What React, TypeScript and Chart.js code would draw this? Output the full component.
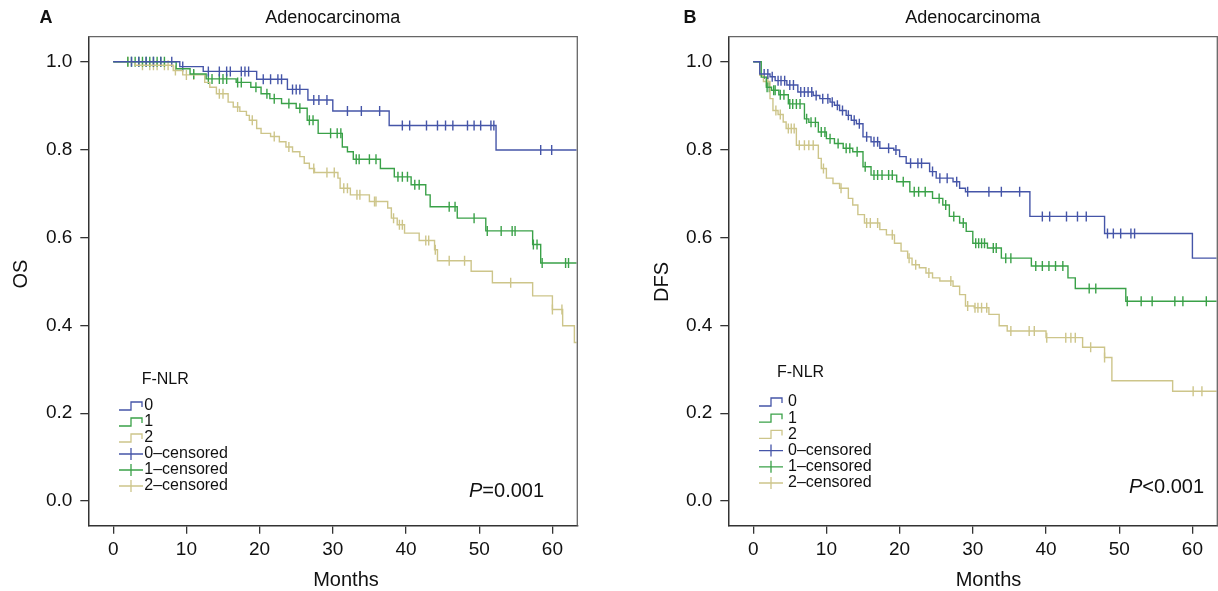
import React, { useEffect, useRef } from 'react';
import { Chart, registerables } from 'chart.js';

Chart.register(...registerables);

const FONT = '"Liberation Sans", Arial, Helvetica, sans-serif';

const groups = ['0', '1', '2'];
const legendLabels = ['0', '1', '2', '0–censored', '1–censored', '2–censored'];
const colors = ['#4555a8', '#3aa148', '#cdc58a'];
const xTicks = [0, 10, 20, 30, 40, 50, 60];
const yTicks = [0, 0.2, 0.4, 0.6, 0.8, 1.0];

// Panel A: overall survival (OS)
const osTime0 = [0, 9.1, 12.3, 19.6, 23.8, 26.6, 30.0, 37.7, 52.3, 63.3];
const osSurv0 = [1.0, 0.989, 0.978, 0.96, 0.937, 0.913, 0.888, 0.855, 0.799, 0.799];
const osCens0 = [2.5, 3.5, 4.5, 5.5, 6.5, 8.0, 9.5, 13.0, 14.5, 15.5, 16.0, 17.5, 18.0, 18.5, 20.5, 21.5, 22.5, 23.0, 24.5, 25.0, 25.5, 27.4, 28.1, 29.2, 32.0, 33.9, 36.4, 39.5, 40.5, 42.8, 44.3, 45.4, 46.4, 48.4, 49.3, 50.2, 51.6, 52.0, 58.4, 59.9];

const osTime1 = [0, 8.6, 10.5, 12.7, 16.8, 18.8, 20.2, 21.4, 23.0, 25.0, 26.5, 28.0, 31.3, 32.0, 32.8, 36.5, 38.4, 40.7, 42.7, 43.3, 47.0, 50.9, 57.3, 58.4, 63.3];
const osSurv1 = [1.0, 0.984, 0.972, 0.961, 0.953, 0.942, 0.927, 0.916, 0.905, 0.894, 0.867, 0.837, 0.806, 0.795, 0.778, 0.757, 0.738, 0.72, 0.697, 0.67, 0.644, 0.615, 0.584, 0.542, 0.542];
const osCens1 = [2.0, 2.5, 3.0, 3.5, 4.0, 4.5, 5.0, 5.5, 6.0, 6.5, 7.0, 11.0, 13.0, 13.5, 14.5, 15.0, 15.5, 17.0, 17.5, 19.5, 21.0, 22.0, 24.0, 25.5, 26.8, 27.3, 29.7, 30.6, 31.1, 33.2, 33.6, 35.0, 35.9, 38.9, 39.5, 40.2, 41.2, 41.8, 45.9, 46.7, 49.3, 51.1, 53.0, 54.5, 54.9, 57.4, 57.9, 58.6, 61.8, 62.2];

const osTime2 = [0, 3.0, 8.2, 9.5, 12.5, 13.2, 14.1, 15.7, 16.4, 17.3, 18.2, 18.6, 19.6, 20.2, 21.5, 22.7, 23.6, 24.5, 25.5, 26.1, 26.8, 27.5, 30.7, 31.0, 32.4, 35.0, 37.5, 38.0, 38.8, 39.8, 41.8, 43.9, 44.3, 48.9, 51.8, 57.3, 60.0, 61.4, 63.0, 63.3];
const osSurv2 = [1.0, 0.992, 0.98, 0.97, 0.953, 0.942, 0.927, 0.908, 0.897, 0.887, 0.878, 0.867, 0.848, 0.837, 0.83, 0.818, 0.806, 0.795, 0.784, 0.769, 0.757, 0.748, 0.735, 0.712, 0.697, 0.682, 0.667, 0.644, 0.629, 0.61, 0.593, 0.572, 0.547, 0.523, 0.497, 0.467, 0.436, 0.399, 0.361, 0.361];
const osCens2 = [2.0, 4.0, 5.0, 5.5, 6.0, 7.0, 7.5, 8.5, 10.0, 11.0, 14.5, 15.0, 17.0, 19.0, 22.0, 24.0, 27.4, 29.2, 30.2, 31.5, 32.0, 33.3, 33.7, 35.7, 35.9, 38.3, 39.1, 39.5, 42.7, 43.1, 44.0, 45.9, 48.0, 54.3, 60.0, 61.3];

// Panel B: disease-free survival (DFS)
const dfsTime0 = [0, 0.9, 2.3, 3.0, 4.6, 6.1, 8.2, 9.1, 10.5, 11.1, 11.8, 12.7, 13.4, 14.1, 15.0, 16.1, 17.3, 19.2, 20.0, 20.9, 24.1, 25.0, 27.3, 28.2, 29.0, 37.8, 48.0, 60.0, 63.3];
const dfsSurv0 = [1.0, 0.972, 0.966, 0.957, 0.947, 0.931, 0.923, 0.916, 0.908, 0.901, 0.889, 0.878, 0.867, 0.859, 0.829, 0.818, 0.803, 0.799, 0.784, 0.769, 0.75, 0.735, 0.727, 0.712, 0.704, 0.648, 0.609, 0.553, 0.553];
const dfsCens0 = [1.5, 2.0, 2.6, 3.4, 3.8, 4.3, 5.0, 5.5, 6.5, 7.0, 7.5, 8.0, 8.6, 9.5, 10.2, 10.8, 11.5, 12.2, 13.0, 13.8, 14.5, 15.5, 16.5, 17.0, 18.5, 19.5, 21.5, 22.5, 23.0, 24.5, 25.5, 26.5, 27.8, 29.3, 32.2, 33.9, 36.4, 39.5, 40.5, 42.8, 44.3, 45.5, 48.4, 49.2, 50.2, 51.6, 52.1];

const dfsTime1 = [0, 1.1, 1.8, 2.5, 3.5, 4.8, 7.0, 7.6, 8.9, 10.0, 11.1, 12.3, 13.6, 15.0, 16.1, 19.6, 21.4, 24.5, 25.9, 26.8, 28.2, 29.1, 30.0, 32.0, 33.9, 38.0, 43.0, 44.0, 50.9, 63.3];
const dfsSurv1 = [1.0, 0.965, 0.942, 0.935, 0.925, 0.904, 0.87, 0.862, 0.84, 0.825, 0.814, 0.803, 0.795, 0.761, 0.742, 0.727, 0.704, 0.689, 0.674, 0.648, 0.633, 0.614, 0.587, 0.576, 0.553, 0.535, 0.508, 0.484, 0.455, 0.455];
const dfsCens1 = [1.9, 2.2, 2.8, 3.0, 3.7, 4.2, 5.0, 5.4, 5.9, 6.4, 7.3, 7.9, 8.5, 9.3, 9.8, 10.5, 11.6, 12.7, 13.2, 14.2, 15.3, 16.5, 17.0, 17.6, 18.5, 19.0, 20.5, 22.0, 22.6, 23.5, 25.4, 26.3, 27.4, 28.7, 30.4, 30.8, 31.2, 31.6, 32.8, 33.2, 34.5, 35.2, 38.6, 39.5, 40.4, 41.3, 42.3, 45.9, 46.8, 51.1, 53.0, 54.5, 57.6, 58.7, 61.9];

const dfsTime2 = [0, 0.9, 1.4, 2.3, 2.7, 3.4, 4.1, 4.5, 5.9, 8.9, 9.3, 10.0, 10.9, 11.8, 13.0, 13.6, 14.3, 15.2, 17.3, 18.2, 19.3, 20.2, 21.1, 21.7, 22.7, 23.6, 24.5, 25.5, 27.3, 28.2, 29.0, 30.2, 32.2, 33.6, 34.7, 40.0, 45.0, 48.0, 49.0, 57.3, 63.3];
const dfsSurv2 = [1.0, 0.969, 0.955, 0.916, 0.889, 0.88, 0.863, 0.848, 0.81, 0.78, 0.757, 0.735, 0.723, 0.712, 0.689, 0.674, 0.652, 0.633, 0.618, 0.606, 0.587, 0.569, 0.553, 0.538, 0.531, 0.519, 0.508, 0.501, 0.489, 0.47, 0.444, 0.44, 0.425, 0.399, 0.387, 0.372, 0.35, 0.327, 0.274, 0.25, 0.25];
const dfsCens2 = [1.8, 2.0, 3.1, 3.7, 4.8, 5.2, 5.6, 6.3, 7.0, 7.6, 8.2, 9.6, 12.0, 15.5, 16.0, 17.0, 19.0, 21.3, 22.2, 24.0, 27.0, 29.3, 30.3, 30.7, 31.2, 31.9, 35.2, 37.7, 38.4, 40.1, 42.7, 43.4, 44.0, 46.1, 48.0, 60.1, 61.3];

function survivalAt(times: number[], surv: number[], t: number): number {
  let v = surv[0];
  for (let i = 0; i < times.length; i++) {
    if (times[i] <= t) v = surv[i];
    else break;
  }
  return v;
}

type Panel = {
  letter: string;
  title: string;
  yTitle: string;
  pSym: string;
  pVal: string;
  times: number[][];
  surv: number[][];
  cens: number[][];
  layout: any;
};

const CANVAS_W = 640;

const panelA: Panel = {
  letter: 'A',
  title: 'Adenocarcinoma',
  yTitle: 'OS',
  pSym: '=',
  pVal: '0.001',
  times: [osTime0, osTime1, osTime2],
  surv: [osSurv0, osSurv1, osSurv2],
  cens: [osCens0, osCens1, osCens2],
  layout: {
    yWidth: 88.3, right: 577.3, letterX: 46, yTitleX: 21, yTitleY: 274, monthsX: 346,
    legTitleX: 141.7, legTitleY: 380, symX: 119, textX: 144.3, rowY0: 406, rowStep: 16,
    pX: 469, pY: 491,
  },
};

const panelB: Panel = {
  letter: 'B',
  title: 'Adenocarcinoma',
  yTitle: 'DFS',
  pSym: '<',
  pVal: '0.001',
  times: [dfsTime0, dfsTime1, dfsTime2],
  surv: [dfsSurv0, dfsSurv1, dfsSurv2],
  cens: [dfsCens0, dfsCens1, dfsCens2],
  layout: {
    yWidth: 119.3, right: 608.3, letterX: 81, yTitleX: 53, yTitleY: 282, monthsX: 379.5,
    legTitleX: 168, legTitleY: 373, symX: 150, textX: 179, rowY0: 402, rowStep: 16.2,
    pX: 520, pY: 487,
  },
};

function makeDecor(p: Panel) {
  const L = p.layout;
  return {
    id: 'decor' + p.letter,
    afterDraw(chart: any) {
      const { ctx, chartArea: a } = chart;
      ctx.save();
      // frame (top & right)
      ctx.strokeStyle = '#666';
      ctx.lineWidth = 1.3;
      ctx.beginPath();
      ctx.moveTo(a.left, a.top);
      ctx.lineTo(a.right, a.top);
      ctx.lineTo(a.right, a.bottom);
      ctx.stroke();

      ctx.fillStyle = '#111';
      ctx.textBaseline = 'middle';
      // title
      ctx.textAlign = 'center';
      ctx.font = `18px ${FONT}`;
      ctx.fillText(p.title, (a.left + a.right) / 2, 18);
      // panel letter
      ctx.font = `bold 18px ${FONT}`;
      ctx.fillText(p.letter, L.letterX, 18);
      // x title
      ctx.font = `20px ${FONT}`;
      ctx.fillText('Months', L.monthsX, 580);
      // y title
      ctx.save();
      ctx.translate(L.yTitleX, L.yTitleY);
      ctx.rotate(-Math.PI / 2);
      ctx.fillText(p.yTitle, 0, 0);
      ctx.restore();

      // P value
      ctx.textAlign = 'left';
      ctx.font = `italic 20px ${FONT}`;
      ctx.fillText('P', L.pX, L.pY);
      const w = ctx.measureText('P').width;
      ctx.font = `20px ${FONT}`;
      ctx.fillText(p.pSym + p.pVal, L.pX + w, L.pY);

      // legend
      ctx.font = `16px ${FONT}`;
      ctx.fillText('F-NLR', L.legTitleX, L.legTitleY);
      ctx.lineWidth = 1.3;
      for (let i = 0; i < legendLabels.length; i++) {
        const y = L.rowY0 + i * L.rowStep;
        const c = colors[i % 3];
        ctx.strokeStyle = c;
        ctx.beginPath();
        if (i < 3) {
          ctx.moveTo(L.symX, y + 4);
          ctx.lineTo(L.symX + 12, y + 4);
          ctx.lineTo(L.symX + 12, y - 4);
          ctx.lineTo(L.symX + 23, y - 4);
          ctx.lineTo(L.symX + 23, y + 1);
        } else {
          ctx.moveTo(L.symX, y);
          ctx.lineTo(L.symX + 24, y);
          ctx.moveTo(L.symX + 12, y - 6);
          ctx.lineTo(L.symX + 12, y + 6);
        }
        ctx.stroke();
        ctx.fillStyle = '#111';
        ctx.fillText(legendLabels[i], L.textX, y);
      }
      ctx.restore();
    },
  };
}

function buildConfig(p: Panel): any {
  const L = p.layout;
  const datasets: any[] = [];
  for (let g = 0; g < groups.length; g++) {
    const times = p.times[g];
    const surv = p.surv[g];
    datasets.push({
      label: groups[g],
      data: times.map((t, i) => ({ x: t, y: surv[i] })),
      borderColor: colors[g],
      backgroundColor: colors[g],
      borderWidth: 1.4,
      pointRadius: 0,
      stepped: 'before',
      fill: false,
      tension: 0,
    });
  }
  for (let g = 0; g < groups.length; g++) {
    const times = p.times[g];
    const surv = p.surv[g];
    datasets.push({
      label: groups[g] + '–censored',
      data: p.cens[g].map((t) => ({ x: t, y: survivalAt(times, surv, t) })),
      borderColor: colors[g],
      backgroundColor: colors[g],
      showLine: false,
      pointStyle: 'line',
      rotation: 90,
      pointRadius: 5,
      pointBorderWidth: 1.4,
      borderWidth: 1.4,
    });
  }
  const tickFont = { family: FONT, size: 19 };
  return {
    type: 'line',
    data: { datasets },
    options: {
      animation: false,
      responsive: false,
      maintainAspectRatio: false,
      devicePixelRatio: 1,
      events: [],
      layout: { padding: { top: 36.7, right: CANVAS_W - L.right, left: 0, bottom: 0 } },
      plugins: { legend: { display: false }, title: { display: false }, tooltip: { enabled: false } },
      scales: {
        x: {
          type: 'linear',
          min: -3.4,
          max: 63.4,
          afterBuildTicks: (s: any) => { s.ticks = xTicks.map((v) => ({ value: v })); },
          afterFit: (s: any) => { s.height = 65.3; },
          grid: { display: true, drawOnChartArea: false, drawTicks: true, tickLength: 8, color: '#333', lineWidth: 1.3 },
          border: { display: true, color: '#333', width: 1.5 },
          ticks: { font: tickFont, color: '#111', padding: 5, maxRotation: 0, autoSkip: false, callback: (v: any) => String(v) },
        },
        y: {
          type: 'linear',
          min: -0.056,
          max: 1.057,
          afterBuildTicks: (s: any) => { s.ticks = yTicks.map((v) => ({ value: v })); },
          afterFit: (s: any) => { s.width = L.yWidth; },
          grid: { display: true, drawOnChartArea: false, drawTicks: true, tickLength: 8, color: '#333', lineWidth: 1.3 },
          border: { display: true, color: '#333', width: 1.5 },
          ticks: { font: tickFont, color: '#111', padding: 8, autoSkip: false, callback: (v: any) => Number(v).toFixed(1) },
        },
      },
    },
    plugins: [makeDecor(p)],
  };
}

function KMChart({ panel, left }: { panel: Panel; left: number }) {
  const ref = useRef<HTMLCanvasElement | null>(null);
  useEffect(() => {
    if (!ref.current) return;
    const chart = new Chart(ref.current, buildConfig(panel));
    return () => chart.destroy();
  }, [panel]);
  return (
    <canvas
      ref={ref}
      width={CANVAS_W}
      height={591}
      style={{ position: 'absolute', left, top: 0, width: CANVAS_W, height: 591 }}
    />
  );
}

export default function App() {
  return (
    <div style={{ position: 'absolute', left: 0, top: 0, width: 1218, height: 591, background: '#fff', overflow: 'hidden' }}>
      <KMChart panel={panelA} left={0} />
      <KMChart panel={panelB} left={609} />
    </div>
  );
}
